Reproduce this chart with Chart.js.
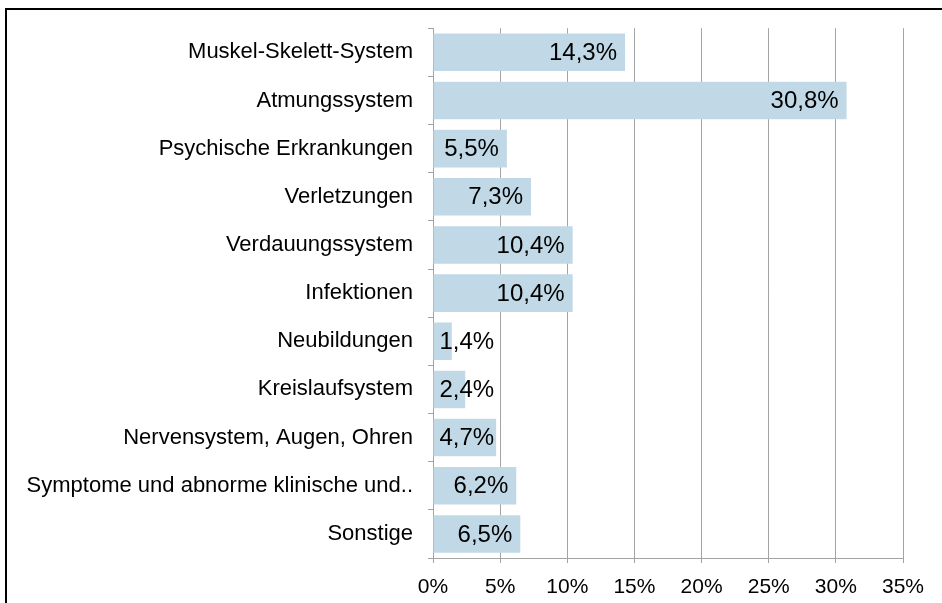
<!DOCTYPE html>
<html>
<head>
<meta charset="utf-8">
<script src="https://cdn.jsdelivr.net/npm/chart.js@4"></script>
<style>
  html, body { margin: 0; padding: 0; background: #fff; }
  #wrap { position: relative; width: 942px; height: 603px; overflow: hidden; }
  #frame {
    position: absolute; left: 5px; top: 8px; width: 960px; height: 620px;
    border-left: 2px solid #000; border-top: 2px solid #000;
  }
  #chart { position: absolute; left: 0; top: 0; }
</style>
</head>
<body>
<div id="wrap">
  <div id="frame"></div>
  <canvas id="chart" width="942" height="603"></canvas>
</div>
<script>
'use strict';

const CATEGORIES = [
  'Muskel-Skelett-System',
  'Atmungssystem',
  'Psychische Erkrankungen',
  'Verletzungen',
  'Verdauungssystem',
  'Infektionen',
  'Neubildungen',
  'Kreislaufsystem',
  'Nervensystem, Augen, Ohren',
  'Symptome und abnorme klinische und..',
  'Sonstige',
];

const SHARES = [14.3, 30.8, 5.5, 7.3, 10.4, 10.4, 1.4, 2.4, 4.7, 6.2, 6.5];

const X_MAX = 35;
const X_STEP = 5;

const FONT = "'Liberation Sans', Arial, sans-serif";
const GRID = '#a3a3a3';
const BAR = '#c1d9e6';

const fmt = (v) => v.toFixed(1).replace('.', ',') + '%';

// ─── Value labels at bar end (fall back to bar start if too short) ───────────

const valueLabels = {
  id: 'valueLabels',
  afterDatasetsDraw(chart) {
    const { ctx } = chart;
    const meta = chart.getDatasetMeta(0);
    ctx.save();
    ctx.font = `24px ${FONT}`;
    ctx.fillStyle = '#000';
    ctx.textBaseline = 'middle';
    meta.data.forEach((bar, i) => {
      const txt = fmt(SHARES[i]);
      const w = ctx.measureText(txt).width;
      const len = bar.x - bar.base;
      if (w + 16 <= len) {
        ctx.textAlign = 'right';
        ctx.fillText(txt, bar.x - 8, bar.y + 1);
      } else {
        ctx.textAlign = 'left';
        ctx.fillText(txt, bar.base + 6, bar.y + 1);
      }
    });
    ctx.restore();
  },
};

new Chart(document.getElementById('chart'), {
  type: 'bar',
  data: {
    labels: CATEGORIES,
    datasets: [{
      data: SHARES,
      backgroundColor: BAR,
      borderWidth: 0,
      barPercentage: 0.78,
      categoryPercentage: 1,
    }],
  },
  plugins: [valueLabels],
  options: {
    indexAxis: 'y',
    responsive: false,
    animation: false,
    layout: { padding: { top: 27, right: 39, bottom: 0, left: 0 } },
    plugins: { legend: { display: false }, tooltip: { enabled: false } },
    scales: {
      x: {
        min: 0,
        max: X_MAX,
        ticks: {
          stepSize: X_STEP,
          color: '#000',
          font: { family: FONT, size: 21 },
          padding: 12,
          callback: (v) => `${v}%`,
        },
        grid: { color: GRID, lineWidth: 1, tickLength: 5 },
        border: { color: GRID },
        afterFit: (s) => { s.height = 45; },
      },
      y: {
        ticks: {
          color: '#000',
          font: { family: FONT, size: 22 },
          padding: 15,
        },
        grid: { drawOnChartArea: false, color: GRID, tickLength: 5, offset: true },
        border: { color: GRID },
        afterFit: (s) => { s.width = 433; },
      },
    },
  },
});
</script>
</body>
</html>
